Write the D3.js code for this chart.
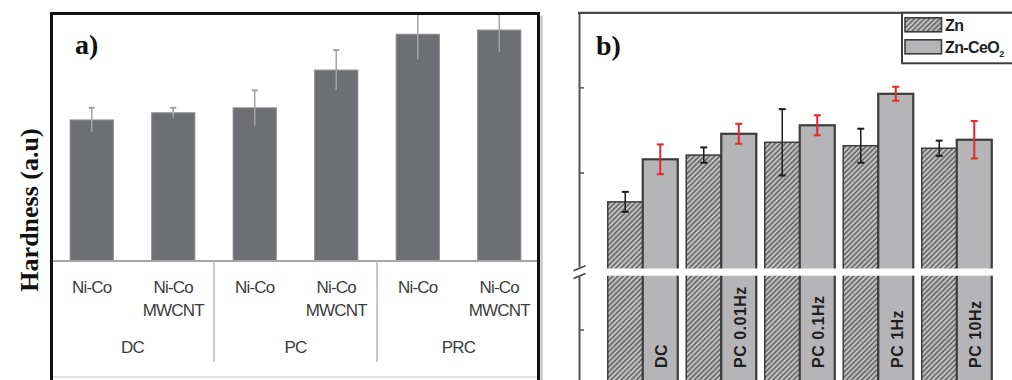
<!DOCTYPE html>
<html>
<head>
<meta charset="utf-8">
<script src="https://cdn.jsdelivr.net/npm/d3@7"></script>
<style>
  html, body { margin: 0; padding: 0; background: #fff; }
  svg { display: block; }
</style>
</head>
<body>
<svg id="chart" width="1012" height="380"></svg>
<script>
// ---- Panel a) : Ni-Co coatings ----
const aModes = ["DC", "PC", "PRC"];
const aSamples = ["Ni-Co", "Ni-Co MWCNT"];
const aValues = [57.1, 60.0, 62.0, 77.3, 91.8, 93.5];
const aErrors = [4.9, 2.0, 7.1, 8.1, 10.1, 8.8];

// ---- Panel b) : Zn vs Zn-CeO2 coatings ----
const bModes = ["DC", "PC 0.01Hz", "PC 0.1Hz", "PC 1Hz", "PC 10Hz"];
const bSeries = ["Zn", "Zn-CeO2"];
const znValues = [93.2, 104.2, 107.2, 106.4, 105.8];
const znErrors = [2.35, 1.8, 7.8, 4.0, 1.8];
const ceValues = [103.2, 109.2, 111.2, 118.6, 107.8];
const ceErrors = [3.5, 2.35, 2.35, 1.65, 4.4];
const bTicks = [20, 100, 120];
const bBreak = [32.7, 77.6];

const svg = d3.select("#chart");
const defs = svg.append("defs");

// diagonal hatch used for the Zn bars
const hatch = defs.append("pattern")
  .attr("id", "hatch").attr("patternUnits", "userSpaceOnUse")
  .attr("width", 3.6).attr("height", 3.6)
  .attr("patternTransform", "rotate(45)");
hatch.append("rect").attr("width", 3.6).attr("height", 3.6).attr("fill", "#c2c2c2");
hatch.append("line").attr("x1", 0.9).attr("y1", 0).attr("x2", 0.9).attr("y2", 3.6)
  .attr("stroke", "#5e5e5e").attr("stroke-width", 1.5);

defs.append("clipPath").attr("id", "clipA")
  .append("rect").attr("x", 52).attr("y", 15).attr("width", 485).attr("height", 370);

// ================= panel a =================
const gA = svg.append("g");
const aKeys = [];
aModes.forEach(m => aSamples.forEach(s => aKeys.push(m + "|" + s)));

const xA = d3.scaleBand().domain(aKeys).range([51, 540]).paddingInner(0.47).paddingOuter(0.235);
const yA = d3.scaleLinear().domain([0, 100]).range([261, 14]);

// frame shadow and faint lower edge
gA.append("line").attr("x1", 541.5).attr("x2", 541.5).attr("y1", 16).attr("y2", 380)
  .attr("stroke", "#c8c8c8").attr("stroke-width", 2.5);
gA.append("line").attr("x1", 52).attr("x2", 538).attr("y1", 377).attr("y2", 377)
  .attr("stroke", "#d4d4d4").attr("stroke-width", 1.5);

const barsA = gA.append("g").attr("clip-path", "url(#clipA)");
barsA.selectAll("rect.bar").data(aValues).join("rect")
  .attr("class", "bar")
  .attr("x", (d, i) => xA(aKeys[i]))
  .attr("width", xA.bandwidth())
  .attr("y", d => yA(d))
  .attr("height", d => yA(0) - yA(d))
  .attr("fill", "#6e6f72")
  .attr("stroke", "#8a8b8e").attr("stroke-width", 1);

// error bars (light grey, capped at the top)
const errA = barsA.selectAll("g.err").data(aValues).join("g").attr("class", "err");
errA.append("line")
  .attr("x1", (d, i) => xA(aKeys[i]) + xA.bandwidth() / 2)
  .attr("x2", (d, i) => xA(aKeys[i]) + xA.bandwidth() / 2)
  .attr("y1", (d, i) => yA(d + aErrors[i]))
  .attr("y2", (d, i) => yA(d - aErrors[i]))
  .attr("stroke", "#a4a4a6").attr("stroke-width", 1.5);
errA.append("line")
  .attr("x1", (d, i) => xA(aKeys[i]) + xA.bandwidth() / 2 - 3)
  .attr("x2", (d, i) => xA(aKeys[i]) + xA.bandwidth() / 2 + 3)
  .attr("y1", (d, i) => yA(d + aErrors[i]))
  .attr("y2", (d, i) => yA(d + aErrors[i]))
  .attr("stroke", "#a4a4a6").attr("stroke-width", 2);

// category axis
gA.append("line").attr("x1", 51).attr("x2", 540).attr("y1", yA(0)).attr("y2", yA(0))
  .attr("stroke", "#a6a6a6").attr("stroke-width", 2);
[2, 4].forEach(k => {
  const xs = 51 + k * xA.step();
  gA.append("line").attr("x1", xs).attr("x2", xs).attr("y1", yA(0)).attr("y2", 362)
    .attr("stroke", "#b8b8b8").attr("stroke-width", 1.5);
});

const lab = gA.append("g")
  .attr("font-family", "'Liberation Sans', Arial, sans-serif")
  .attr("font-size", 17).attr("fill", "#3c3c3c").attr("text-anchor", "middle")
  .attr("letter-spacing", -0.8);
aKeys.forEach((k, i) => {
  const cx = xA(k) + xA.bandwidth() / 2;
  const lines = k.split("|")[1].split(" ");
  lines.forEach((t, j) => {
    lab.append("text").attr("x", cx).attr("y", 292.5 + j * 23.5).text(t);
  });
});
aModes.forEach((m, gi) => {
  const cx = 51 + (gi * 2 + 1) * xA.step();
  lab.append("text").attr("x", cx).attr("y", 353).text(m);
});

// frame
gA.append("path").attr("d", "M51.5,400 L51.5,13.5 L538.5,13.5 L538.5,400")
  .attr("fill", "none").attr("stroke", "#111").attr("stroke-width", 3);

gA.append("text").attr("x", 75).attr("y", 54)
  .attr("font-family", "'Liberation Serif', 'Times New Roman', serif")
  .attr("font-weight", "bold").attr("font-size", 28).attr("fill", "#111").text("a)");

// shared y title
svg.append("text")
  .attr("transform", "translate(38,210) rotate(-90)")
  .attr("text-anchor", "middle")
  .attr("font-family", "'Liberation Serif', 'Times New Roman', serif")
  .attr("font-weight", "bold").attr("font-size", 26).attr("fill", "#111")
  .text("Hardness (a.u)");

// ================= panel b =================
const gB = svg.append("g");
const x0 = d3.scaleBand().domain(bModes).range([603.5, 996]).paddingInner(0.108).paddingOuter(0.054);
const x1 = d3.scaleBand().domain(bSeries).range([0, x0.bandwidth()]);
const yB = d3.scaleLinear()
  .domain([0, bBreak[0], bBreak[1], 137.6])
  .range([415, 276, 268.2, 13]);

const rowsB = bModes.map((m, i) => ({
  mode: m,
  bars: [
    { key: "Zn", v: znValues[i], e: znErrors[i] },
    { key: "Zn-CeO2", v: ceValues[i], e: ceErrors[i] }
  ]
}));

const grp = gB.selectAll("g.grp").data(rowsB).join("g")
  .attr("class", "grp")
  .attr("transform", d => `translate(${x0(d.mode)},0)`);

grp.selectAll("rect").data(d => d.bars).join("rect")
  .attr("x", d => x1(d.key))
  .attr("width", x1.bandwidth())
  .attr("y", d => yB(d.v))
  .attr("height", d => yB(0) - yB(d.v))
  .attr("fill", d => d.key === "Zn" ? "url(#hatch)" : "#b5b5b7")
  .attr("stroke", "#3c3c3c")
  .attr("stroke-width", d => d.key === "Zn" ? 1.5 : 2.2);

// axis break band across the bars
gB.append("rect").attr("x", 602).attr("width", 396)
  .attr("y", yB(bBreak[1]) + 0.3).attr("height", yB(bBreak[0]) - yB(bBreak[1]) - 0.6)
  .attr("fill", "#fff");

// rotated sample labels inside the Zn-CeO2 bars
grp.append("text")
  .attr("transform", d => `translate(${x1("Zn-CeO2") + x1.bandwidth() / 2 + 1},368) rotate(-90)`)
  .attr("dy", "0.36em")
  .attr("font-family", "'Liberation Sans', Arial, sans-serif")
  .attr("font-weight", "bold").attr("font-size", 16).attr("fill", "#1e1e1e")
  .attr("letter-spacing", 0.5)
  .text(d => d.mode);

// error bars
const errB = grp.selectAll("g.err").data(d => d.bars).join("g").attr("class", "err")
  .attr("stroke", d => d.key === "Zn" ? "#1c1c1c" : "#e8262b");
errB.append("line")
  .attr("x1", d => x1(d.key) + x1.bandwidth() / 2)
  .attr("x2", d => x1(d.key) + x1.bandwidth() / 2)
  .attr("y1", d => yB(d.v + d.e)).attr("y2", d => yB(d.v - d.e))
  .attr("stroke-width", d => d.key === "Zn" ? 1.5 : 2);
[1, -1].forEach(s => {
  errB.append("line")
    .attr("x1", d => x1(d.key) + x1.bandwidth() / 2 - 3.5)
    .attr("x2", d => x1(d.key) + x1.bandwidth() / 2 + 3.5)
    .attr("y1", d => yB(d.v + s * d.e)).attr("y2", d => yB(d.v + s * d.e))
    .attr("stroke-width", 2);
});

// value axis with inward ticks and a break mark
gB.append("line").attr("x1", 579.5).attr("x2", 579.5).attr("y1", 12).attr("y2", 380)
  .attr("stroke", "#555").attr("stroke-width", 2);
gB.append("line").attr("x1", 578).attr("x2", 1012).attr("y1", 12.8).attr("y2", 12.8)
  .attr("stroke", "#4a4a4a").attr("stroke-width", 2.2);
gB.selectAll("line.tick").data(bTicks).join("line").attr("class", "tick")
  .attr("x1", 579).attr("x2", 584)
  .attr("y1", d => yB(d)).attr("y2", d => yB(d))
  .attr("stroke", "#555").attr("stroke-width", 1.5);
gB.append("rect").attr("x", 576).attr("y", yB(bBreak[1]) - 1).attr("width", 8)
  .attr("height", yB(bBreak[0]) - yB(bBreak[1]) + 2).attr("fill", "#fff");
[yB(bBreak[1]), yB(bBreak[0])].forEach(yb => {
  gB.append("line").attr("x1", 573.5).attr("x2", 585.5)
    .attr("y1", yb + 2.5).attr("y2", yb - 2.5)
    .attr("stroke", "#444").attr("stroke-width", 1.6);
});

gB.append("text").attr("x", 596).attr("y", 55)
  .attr("font-family", "'Liberation Serif', 'Times New Roman', serif")
  .attr("font-weight", "bold").attr("font-size", 28).attr("fill", "#111").text("b)");

// legend
const leg = gB.append("g");
leg.append("rect").attr("x", 902).attr("y", 12.8).attr("width", 130).attr("height", 50.5)
  .attr("fill", "#fff").attr("stroke", "#3e3e3e").attr("stroke-width", 2);
const legRows = leg.selectAll("g.row").data(bSeries).join("g").attr("class", "row")
  .attr("transform", (d, i) => `translate(0,${i * 22})`);
legRows.append("rect").attr("x", 905).attr("y", 17.8).attr("width", 36.5).attr("height", 14)
  .attr("fill", d => d === "Zn" ? "url(#hatch)" : "#b5b5b7")
  .attr("stroke", "#3c3c3c").attr("stroke-width", 1.6);
const legText = legRows.append("text").attr("x", 945).attr("y", 30.5)
  .attr("font-family", "'Liberation Sans', Arial, sans-serif")
  .attr("font-weight", "bold").attr("font-size", 16).attr("fill", "#222")
  .attr("letter-spacing", -0.6);
legText.each(function (d) {
  const t = d3.select(this);
  if (d === "Zn-CeO2") {
    t.append("tspan").text("Zn-CeO");
    t.append("tspan").attr("font-size", 9).attr("dy", 4).text("2");
  } else {
    t.text(d);
  }
});
</script>
</body>
</html>
